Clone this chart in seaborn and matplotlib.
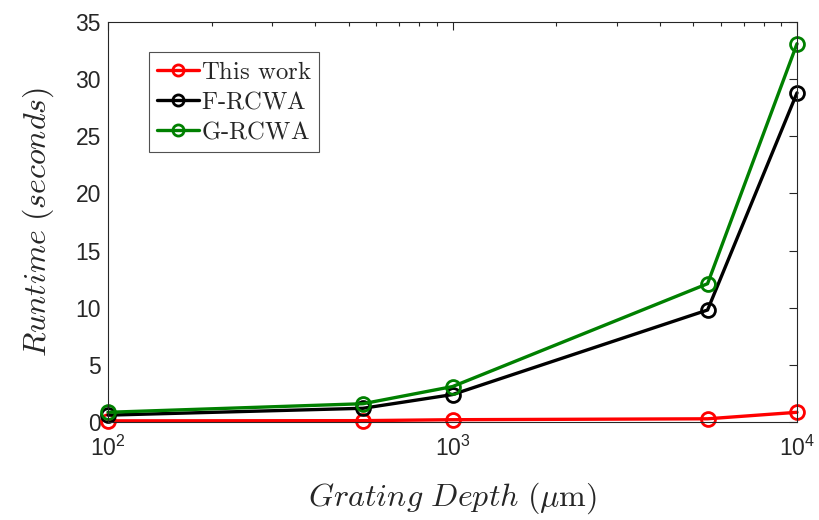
import matplotlib
matplotlib.use("Agg")
import matplotlib.pyplot as plt
from matplotlib.font_manager import FontProperties
from matplotlib.ticker import LogLocator, NullFormatter
import numpy as np
import pandas as pd
import seaborn as sns

# Grating depth (um) and runtime (s) for each solver
depth = [100, 550, 1000, 5500, 10000]
this_work = [0.1, 0.12, 0.2, 0.28, 0.85]
f_rcwa = [0.6, 1.2, 2.4, 9.8, 28.8]
g_rcwa = [0.85, 1.6, 3.1, 12.1, 33.1]

series_names = ["This work", "F-RCWA", "G-RCWA"]
series_colors = ["#ff0000", "#000000", "#008000"]

sns.set_style("white")
plt.rcParams["font.family"] = ["Liberation Sans", "DejaVu Sans"]
plt.rcParams["mathtext.fontset"] = "custom"
plt.rcParams["mathtext.rm"] = "Liberation Sans"

axis_gray = "#262626"

df = pd.DataFrame({
    "depth": depth * 3,
    "runtime": this_work + f_rcwa + g_rcwa,
    "method": [n for n in series_names for _ in depth],
})

fig = plt.figure(figsize=(8.19, 5.20), dpi=100)
ax = fig.add_axes([108 / 819, 1 - 422 / 520, (797 - 108) / 819, (422 - 22) / 520])

for name, color in zip(series_names, series_colors):
    sub = df[df["method"] == name]
    sns.lineplot(data=sub, x="depth", y="runtime", ax=ax, color=color,
                 linewidth=2.4, marker="o", markersize=10,
                 markerfacecolor="none", markeredgecolor=color,
                 markeredgewidth=2.0, label=name, clip_on=False)

ax.set_xscale("log")
ax.set_xlim(100, 10000)
ax.set_ylim(0, 35)
ax.set_yticks(np.arange(0, 36, 5))
ax.xaxis.set_major_locator(LogLocator(base=10))
ax.xaxis.set_minor_locator(LogLocator(base=10, subs=np.arange(2, 10)))
ax.xaxis.set_minor_formatter(NullFormatter())

ax.tick_params(axis="both", which="both", direction="in", top=True, right=True,
               colors=axis_gray, labelsize=16.5, width=0.8)
ax.tick_params(axis="both", which="major", length=6)
ax.tick_params(axis="x", which="minor", length=3)
ax.tick_params(axis="x", which="major", pad=10)
ax.tick_params(axis="y", which="major", pad=5)
for side in ax.spines.values():
    side.set_color(axis_gray)
    side.set_linewidth(0.8)
    side.set_visible(True)

ax.set_xlabel(r"$Grating\ Depth\ (\mu\mathrm{m})$", fontsize=23,
              color=axis_gray, math_fontfamily="cm", labelpad=14)
ax.set_ylabel(r"$Runtime\ (seconds)$", fontsize=23,
              color=axis_gray, math_fontfamily="cm", labelpad=14)

handles, labels = ax.get_legend_handles_labels()
leg_labels = [r"$\text{" + l + "}$" for l in labels]
leg = ax.legend(handles, leg_labels, loc="upper left",
                bbox_to_anchor=(0.059, 0.925),
                prop=FontProperties(size=17.8, math_fontfamily="cm"),
                frameon=True, fancybox=False, edgecolor=axis_gray,
                handlelength=1.7, handletextpad=0.08, borderpad=0.32,
                labelspacing=0.24, borderaxespad=0.0, markerscale=0.8)
leg.get_frame().set_linewidth(0.8)

fig.savefig("out.png", dpi=100)
